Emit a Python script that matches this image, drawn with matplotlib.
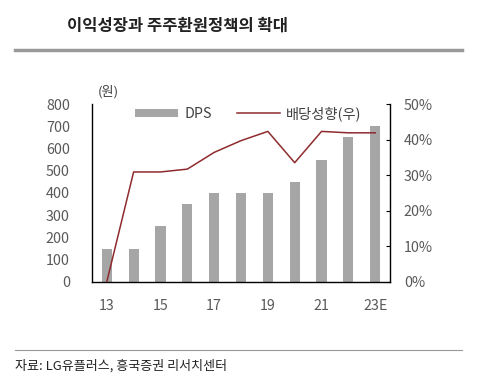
import matplotlib
matplotlib.use("Agg")
import matplotlib.pyplot as plt
from matplotlib.lines import Line2D
from matplotlib.patches import Patch

plt.rcParams['font.family'] = ['Noto Sans CJK KR', 'DejaVu Sans']

years = ['13', '14', '15', '16', '17', '18', '19', '20', '21', '22', '23E']
dps = [150, 150, 250, 350, 400, 400, 400, 450, 550, 650, 700]
payout = [0, 30.9, 30.9, 31.7, 36.4, 39.7, 42.3, 33.5, 42.3, 41.9, 41.9]
left_ticks = [0, 100, 200, 300, 400, 500, 600, 700, 800]
right_ticks = [0, 10, 20, 30, 40, 50]

bar_color = '#A6A6A6'
line_color = '#8E2B2E'
txt = '#595959'

fig = plt.figure(figsize=(5.0, 3.91), dpi=100)
ax = fig.add_axes([0.184, 0.279, 0.596, 0.455])
x = list(range(len(years)))
ax.bar(x, dps, width=0.38, color=bar_color, zorder=2)
ax.set_ylim(0, 800)
ax.set_xlim(-0.55, 10.55)
ax.set_yticks(left_ticks)
ax.set_yticklabels([str(v) for v in left_ticks])
ax.set_xticks(x[::2])
ax.set_xticklabels(years[::2])
ax.tick_params(axis='both', length=0, labelsize=10.3, labelcolor=txt)
ax.tick_params(axis='y', pad=16)
ax.tick_params(axis='x', pad=12)
for s in ['top', 'right']:
    ax.spines[s].set_visible(False)
ax.spines['left'].set_color('black')
ax.spines['bottom'].set_color('black')
ax.spines['left'].set_linewidth(1.0)
ax.spines['bottom'].set_linewidth(1.0)

ax2 = ax.twinx()
ax2.plot(x, payout, color=line_color, lw=1.1, zorder=3)
ax2.set_ylim(0, 50)
ax2.set_yticks(right_ticks)
ax2.set_yticklabels([f'{v}%' for v in right_ticks])
ax2.tick_params(axis='y', direction='in', length=3, labelsize=10.3, labelcolor=txt, pad=10)
for s in ['top', 'left', 'bottom']:
    ax2.spines[s].set_visible(False)
ax2.spines['right'].set_color('black')
ax2.spines['right'].set_linewidth(1.0)

handles = [Patch(facecolor=bar_color, edgecolor='none'),
           Line2D([0], [0], color=line_color, lw=1.1)]
leg = fig.legend(handles, ['DPS', '배당성향(우)'], loc='center left',
                 bbox_to_anchor=(0.245, 0.71), ncol=2, frameon=False,
                 fontsize=10.3, handlelength=3.0, handleheight=0.5,
                 columnspacing=1.8, handletextpad=0.4)
for t in leg.get_texts():
    t.set_color('#404040')

fig.text(0.195, 0.765, '(원)', fontsize=9.5, color='#404040', va='center')

fig.text(0.134, 0.935, '이익성장과 주주환원정책의 확대', fontsize=11.9,
         fontweight='bold', color='#222222', va='center')
fig.add_artist(Line2D([0.03, 0.924], [0.872, 0.872], color='#999999', lw=2.5,
                      transform=fig.transFigure))
fig.add_artist(Line2D([0.03, 0.924], [0.105, 0.105], color='#999999', lw=0.8,
                      transform=fig.transFigure))
fig.text(0.03, 0.065, '자료: LG유플러스, 흥국증권 리서치센터', fontsize=9.4,
         color='#222222', va='center')

fig.savefig('out.png', dpi=100)
